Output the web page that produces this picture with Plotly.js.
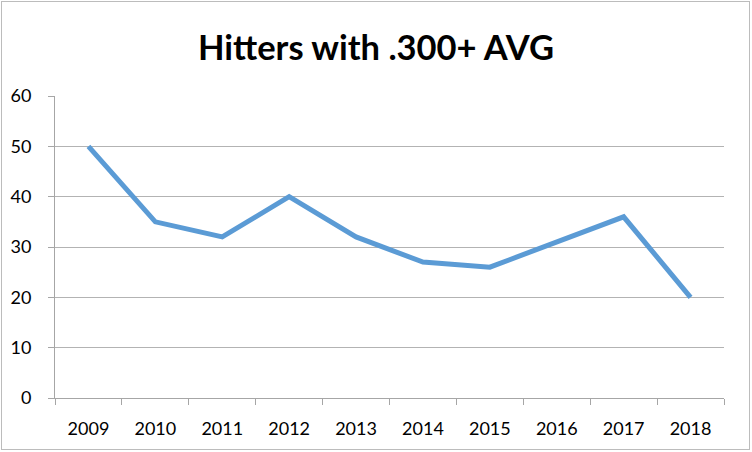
<!DOCTYPE html>
<html>
<head>
<meta charset="utf-8">
<script src="https://cdn.plot.ly/plotly-3.0.1.min.js"></script>
<style>
html,body{margin:0;padding:0;background:#fff;}
#chart{position:absolute;left:0;top:0;width:752px;height:452px;}
#frame{position:absolute;left:1px;top:1px;width:747px;height:447px;border:1px solid #bcbcbc;pointer-events:none;}
</style>
</head>
<body>
<div id="chart"></div>
<div id="frame"></div>
<script>
const years = ["2009","2010","2011","2012","2013","2014","2015","2016","2017","2018"];
const hitters = [50, 35, 32, 40, 32, 27, 26, 31, 36, 20];
const chartTitle = "Hitters with .300+ AVG";

const trace = {
  x: years,
  y: hitters,
  type: "scatter",
  mode: "lines",
  line: {color: "#5b9bd5", width: 5},
  hoverinfo: "skip"
};

const layout = {
  width: 752,
  height: 452,
  margin: {l: 55, r: 28, t: 96, b: 54},
  paper_bgcolor: "#ffffff",
  plot_bgcolor: "#ffffff",
  font: {family: "Lato, 'Open Sans', sans-serif", color: "#000000", size: 18},
  showlegend: false,
  title: {
    text: "<b>" + chartTitle + "</b>",
    font: {family: "Lato, 'Open Sans', sans-serif", size: 34.5, color: "#000000"},
    x: 0.5, xanchor: "center",
    y: 1 - 48/452, yanchor: "middle", yref: "container"
  },
  xaxis: {
    type: "category",
    range: [-0.5, 9.5],
    tickson: "boundaries",
    ticks: "outside",
    ticklen: 6,
    tickcolor: "#a6a6a6",
    tickwidth: 1,
    showgrid: false,
    showline: true,
    linecolor: "#a6a6a6",
    linewidth: 1,
    zeroline: false,
    ticklabelstandoff: 14,
    tickfont: {size: 18, color: "#000000"},
    fixedrange: true
  },
  yaxis: {
    range: [0, 60],
    dtick: 10,
    tick0: 0,
    ticks: "outside",
    ticklen: 6,
    tickcolor: "#a6a6a6",
    showgrid: true,
    gridcolor: "#b3b3b3",
    gridwidth: 1,
    showline: true,
    linecolor: "#a6a6a6",
    linewidth: 1,
    zeroline: false,
    ticklabelstandoff: 13,
    tickfont: {size: 18, color: "#000000"},
    fixedrange: true
  }
};

Plotly.newPlot("chart", [trace], layout, {displayModeBar: false, staticPlot: true});
</script>
</body>
</html>
